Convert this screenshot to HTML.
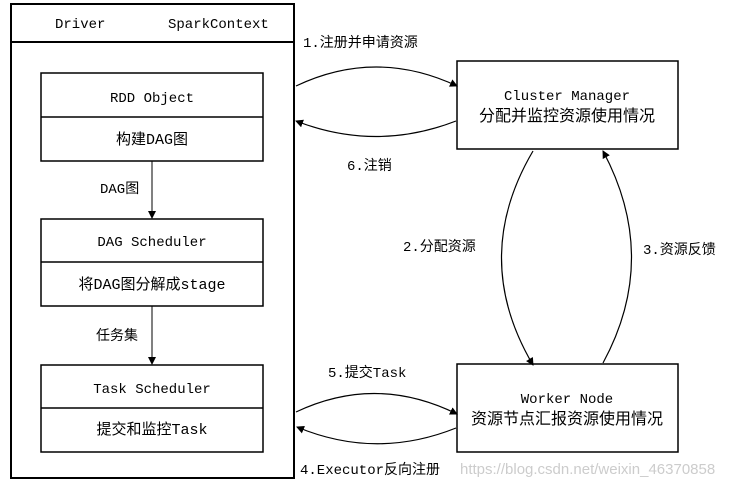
<!DOCTYPE html>
<html><head><meta charset="utf-8"><style>
body{margin:0;background:#fff;}
svg text{font-family:"Liberation Mono","Noto Sans CJK SC",monospace;font-size:14px;fill:#000;}
</style></head><body>
<svg width="739" height="487" viewBox="0 0 739 487" xmlns="http://www.w3.org/2000/svg">
<defs><marker id="a" markerWidth="8" markerHeight="8" refX="7" refY="4" orient="auto" markerUnits="userSpaceOnUse"><path d="M0,0 L8,4 L0,8 z" fill="#000"/></marker></defs>
<g fill="none" stroke="#000">
<rect x="11" y="4" width="283" height="474" stroke-width="2"/>
<line x1="11" y1="42" x2="294" y2="42" stroke-width="2"/>
<rect x="41" y="73" width="222" height="88" stroke-width="1.5"/>
<line x1="41" y1="117" x2="263" y2="117" stroke-width="1.5"/>
<rect x="41" y="219" width="222" height="87" stroke-width="1.5"/>
<line x1="41" y1="262" x2="263" y2="262" stroke-width="1.5"/>
<rect x="41" y="365" width="222" height="87" stroke-width="1.5"/>
<line x1="41" y1="408" x2="263" y2="408" stroke-width="1.5"/>
<line x1="152" y1="161" x2="152" y2="218" marker-end="url(#a)"/>
<line x1="152" y1="306" x2="152" y2="364" marker-end="url(#a)"/>
<rect x="457" y="61" width="221" height="88" stroke-width="1.5"/>
<rect x="457" y="364" width="221" height="88" stroke-width="1.5"/>
<path d="M296,86 Q376,48 457,86" marker-end="url(#a)" stroke-width="1.2"/>
<path d="M456,121 Q376,152 296,121" marker-end="url(#a)" stroke-width="1.2"/>
<path d="M533,151 Q470,258 533,365" marker-end="url(#a)" stroke-width="1.2"/>
<path d="M603,363 Q660,258 603,151" marker-end="url(#a)" stroke-width="1.2"/>
<path d="M296,412 Q376,374 457,414" marker-end="url(#a)" stroke-width="1.2"/>
<path d="M456,428 Q376,460 297,427" marker-end="url(#a)" stroke-width="1.2"/>
</g>
<text x="55" y="28">Driver</text>
<text x="168" y="28">SparkContext</text>
<text x="152" y="102" text-anchor="middle">RDD Object</text>
<text x="152" y="144" text-anchor="middle" style="font-size:15px">构建DAG图</text>
<text x="100" y="193">DAG图</text>
<text x="152" y="246" text-anchor="middle">DAG Scheduler</text>
<text x="152" y="289" text-anchor="middle" style="font-size:15px">将DAG图分解成stage</text>
<text x="96" y="340">任务集</text>
<text x="152" y="393" text-anchor="middle">Task Scheduler</text>
<text x="152" y="434" text-anchor="middle" style="font-size:15px">提交和监控Task</text>
<text x="567" y="100" text-anchor="middle">Cluster Manager</text>
<text x="567" y="121" text-anchor="middle" style="font-size:16px">分配并监控资源使用情况</text>
<text x="567" y="403" text-anchor="middle">Worker Node</text>
<text x="567" y="424" text-anchor="middle" style="font-size:16px">资源节点汇报资源使用情况</text>
<text x="303" y="47">1.注册并申请资源</text>
<text x="347" y="170">6.注销</text>
<text x="403" y="251">2.分配资源</text>
<text x="643" y="254">3.资源反馈</text>
<text x="328" y="377">5.提交Task</text>
<text x="300" y="474">4.Executor反向注册</text>
<text x="460" y="474" style="font-family:'Liberation Sans',sans-serif;font-size:15px;fill:#ccc">https://blog.csdn.net/weixin_46370858</text>
</svg>
</body></html>
